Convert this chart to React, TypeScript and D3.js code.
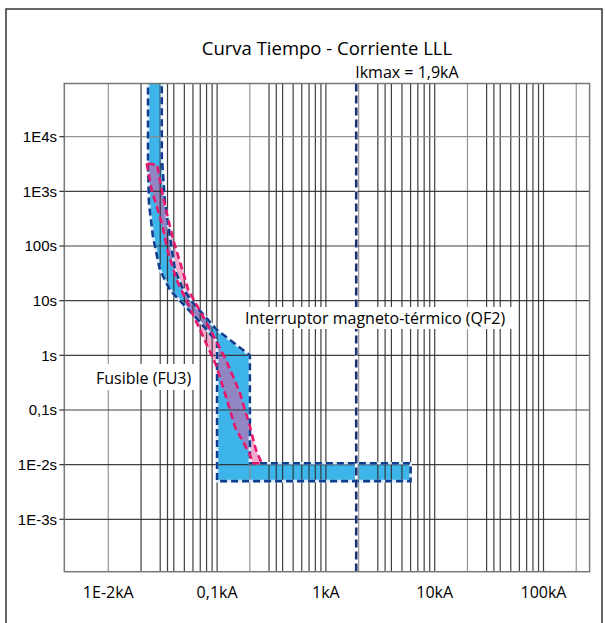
import * as d3 from "d3";

const chartTitle = "Curva Tiempo - Corriente LLL";

const currentTicks = [0.01, 0.1, 1, 10, 100];
const currentTickLabels = ["1E-2kA", "0,1kA", "1kA", "10kA", "100kA"];
const timeTicks = [1e4, 1e3, 100, 10, 1, 0.1, 0.01, 0.001];
const timeTickLabels = ["1E4s", "1E3s", "100s", "10s", "1s", "0,1s", "1E-2s", "1E-3s"];
const gridMantissas = [1, 2, 3, 3.5, 4, 5, 6, 7, 8, 9];

// QF2 magneto-thermal breaker, current in kA, time in s
const qf2MinCurrent = [0.0232, 0.0232, 0.02366, 0.02576, 0.02986, 0.0369, 0.0476, 0.0697, 0.1, 0.1, 6];
const qf2MinTime = [2e5, 3035, 612, 146, 36.4, 15.7, 9.08, 4.07, 1.75, 0.005, 0.005];
const qf2MaxCurrent = [0.031, 0.031, 0.0316, 0.0332, 0.0369, 0.041, 0.0476, 0.06, 0.1, 0.2, 0.2, 6];
const qf2MaxTime = [2e5, 4250, 2460, 612, 146, 36.4, 17.8, 9.08, 2.9, 1, 0.0106, 0.0106];

// FU3 fuse
const fu3MinCurrent = [0.02254, 0.02506, 0.031, 0.0351, 0.04254, 0.0697, 0.0977, 0.1208, 0.146, 0.2006, 0.2138];
const fu3MinTime = [3260, 1059, 263.6, 81, 23.9, 2.91, 0.665, 0.173, 0.0489, 0.01503, 0.0106];
const fu3MaxCurrent = [0.02818, 0.031, 0.03443, 0.03957, 0.04892, 0.05436, 0.0842, 0.1208, 0.1623, 0.2006, 0.2278, 0.257];
const fu3MaxTime = [3035, 1059, 401.8, 128.8, 32.1, 15.7, 3.3, 0.822, 0.2047, 0.0489, 0.01854, 0.0106];

const ikmax = 1.9;

const W = 605;
const H = 623;
const plot = { left: 64.3, top: 83.5, right: 589.6, bottom: 571.7 };
const sans = "'Open Sans', sans-serif";

const zip = (a: number[], b: number[]) => a.map((v, i) => [v, b[i]] as [number, number]);

export default function App() {
  const x = d3.scaleLog().domain([0.01, 100]).range([108.3, 543.5]);
  const y = d3.scaleLog().domain([0.001, 1e4]).range([519.3, 136.7]);
  const line = d3.line<[number, number]>().x(d => x(d[0])).y(d => y(d[1]));

  const qf2 = [...zip(qf2MinCurrent, qf2MinTime), ...zip(qf2MaxCurrent, qf2MaxTime).reverse()];
  const fu3 = [...zip(fu3MinCurrent, fu3MinTime), ...zip(fu3MaxCurrent, fu3MaxTime).reverse()];
  const qf2Path = line(qf2) + "Z";
  const fu3Path = line(fu3) + "Z";

  const maxI = x.invert(plot.right);
  const gridValues: { v: number; gray: boolean }[] = [];
  currentTicks.forEach(d => {
    gridMantissas.forEach(m => {
      const v = d * m;
      if (v <= maxI) gridValues.push({ v, gray: (m === 2 && d >= 0.1) || (m === 1 && d === 0.01) });
    });
  });

  return (
    <svg width={W} height={H} style={{ position: "absolute", left: 0, top: 0, background: "#fff" }}>
      <defs>
        <clipPath id="plotClip">
          <rect x={plot.left} y={plot.top} width={plot.right - plot.left} height={plot.bottom - plot.top} />
        </clipPath>
      </defs>
      <rect x={6} y={9} width={596} height={700} fill="none" stroke="#333" strokeWidth={1.5} />

      <text x={(plot.left + plot.right) / 2} y={55} textAnchor="middle" fontFamily={sans} fontSize={18.5}>
        {chartTitle}
      </text>

      <g clipPath="url(#plotClip)">
        <path d={qf2Path} fill="#1ba8e6" fillOpacity={0.85} />
        <path d={fu3Path} fill="#e7559b" fillOpacity={0.5} />

        {gridValues.map((g, i) => (
          <line key={"v" + i} x1={x(g.v)} x2={x(g.v)} y1={plot.top} y2={plot.bottom}
            stroke={g.gray ? "#8a8a8a" : "#2b2b2b"} strokeWidth={1.2} strokeOpacity={0.9} />
        ))}
        {timeTicks.map((t, i) => (
          <line key={"h" + i} x1={plot.left} x2={plot.right} y1={y(t)} y2={y(t)}
            stroke={i === 0 ? "#8a8a8a" : "#2b2b2b"} strokeWidth={1.2} strokeOpacity={0.9} />
        ))}

        <path d={qf2Path} fill="none" stroke="#dcecf8" strokeWidth={2.6} />
        <path d={qf2Path} fill="none" stroke="#0d3d8f" strokeWidth={2.6} strokeDasharray="7 4" />
        <path d={fu3Path} fill="none" stroke="#e8186d" strokeWidth={2.6} strokeDasharray="7 4" />

        <line x1={x(ikmax)} x2={x(ikmax)} y1={plot.top} y2={plot.bottom} stroke="#fff" strokeWidth={2.6} />
        <line x1={x(ikmax)} x2={x(ikmax)} y1={plot.top} y2={plot.bottom} stroke="#1b2f73"
          strokeWidth={2.6} strokeDasharray="8 4" />
      </g>

      <rect x={plot.left} y={plot.top} width={plot.right - plot.left} height={plot.bottom - plot.top}
        fill="none" stroke="#777" strokeWidth={1.5} />

      {timeTicks.map((t, i) => (
        <g key={"yt" + i}>
          <line x1={plot.left - 5} x2={plot.left} y1={y(t)} y2={y(t)} stroke="#333" strokeWidth={1.2} />
          <text x={57} y={y(t)} dy="0.36em" textAnchor="end" fontFamily="'Liberation Sans', Arial, sans-serif"
            fontSize={15}>{timeTickLabels[i]}</text>
        </g>
      ))}
      {currentTicks.map((c, i) => (
        <text key={"xt" + i} x={x(c)} y={598} textAnchor="middle" fontFamily={sans} fontSize={16}>
          {currentTickLabels[i]}
        </text>
      ))}

      <text x={x(ikmax) - 1} y={78} fontFamily={sans} fontSize={16}>Ikmax = 1,9kA</text>

      <rect x={242} y={307} width={272} height={22} fill="#fff" />
      <text x={245} y={323.5} fontFamily={sans} fontSize={16}>Interruptor magneto-térmico (QF2)</text>

      <rect x={92} y={364} width={106} height={26} fill="#fff" />
      <text x={96} y={383.5} fontFamily={sans} fontSize={16}>Fusible (FU3)</text>
    </svg>
  );
}
